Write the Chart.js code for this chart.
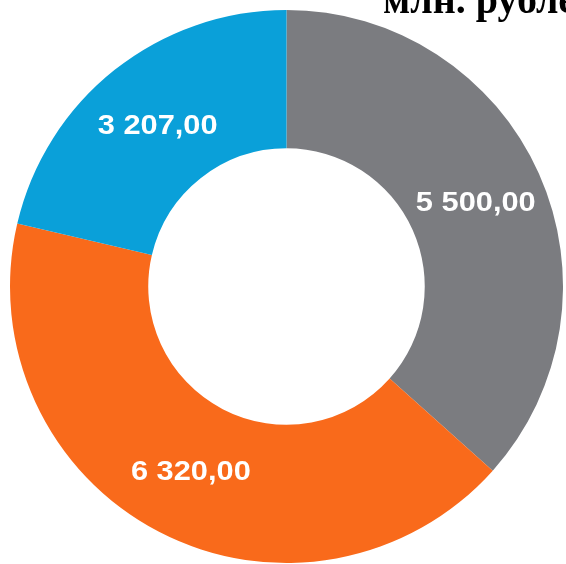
<!DOCTYPE html>
<html>
<head>
<meta charset="utf-8">
<script src="https://cdn.jsdelivr.net/npm/chart.js@4/dist/chart.umd.min.js"></script>
<style>
  html, body { margin: 0; padding: 0; background: #fff; }
  #wrap { width: 566px; height: 564px; }
</style>
</head>
<body>
<div id="wrap"><canvas id="pieChart"></canvas></div>
<script>
const categories = ['Категория 1', 'Категория 2', 'Категория 3'];
const values = [5500.00, 6320.00, 3207.00];
const colors = ['#7b7c80', '#f96a1b', '#0aa0d9'];
const titleText = 'млн. рублей';

function fmt(v) {
    const parts = v.toFixed(2).split('.');
    return parts[0].replace(/\B(?=(\d{3})+(?!\d))/g, ' ') + ',' + parts[1];
}

// value labels inside the slices + clipped title at top right
const labelPlugin = {
    id: 'sliceLabels',
    afterDatasetsDraw(chart) {
        const ctx = chart.ctx;
        const meta = chart.getDatasetMeta(0);
        meta.data.forEach((arc, i) => {
            const p = arc.tooltipPosition();
            ctx.save();
            ctx.translate(p.x, p.y + 2);
            ctx.scale(1.1, 1);
            ctx.fillStyle = '#ffffff';
            ctx.font = 'bold 28px "Liberation Sans", Arial, sans-serif';
            ctx.textAlign = 'center';
            ctx.textBaseline = 'middle';
            ctx.fillText(fmt(values[i]), 0, 0);
            ctx.restore();
        });

        ctx.save();
        ctx.fillStyle = '#000000';
        ctx.font = 'bold 40px "Liberation Serif", "Times New Roman", serif';
        ctx.textAlign = 'left';
        ctx.textBaseline = 'alphabetic';
        ctx.fillText(titleText, 383, 13);
        ctx.restore();
    }
};

const ctxPie = document.getElementById('pieChart').getContext('2d');
const pieChart = new Chart(ctxPie, {
    type: 'doughnut',
    data: {
        labels: categories,
        datasets: [{
            data: values,
            backgroundColor: colors,
            borderWidth: 0
        }]
    },
    options: {
        responsive: true,
        maintainAspectRatio: false,
        animation: false,
        cutout: '50%',
        layout: { padding: { left: 10, right: 3, top: 10, bottom: 1 } },
        plugins: {
            legend: { display: false },
            title: { display: false },
            tooltip: { enabled: false }
        }
    },
    plugins: [labelPlugin]
});
</script>
</body>
</html>
